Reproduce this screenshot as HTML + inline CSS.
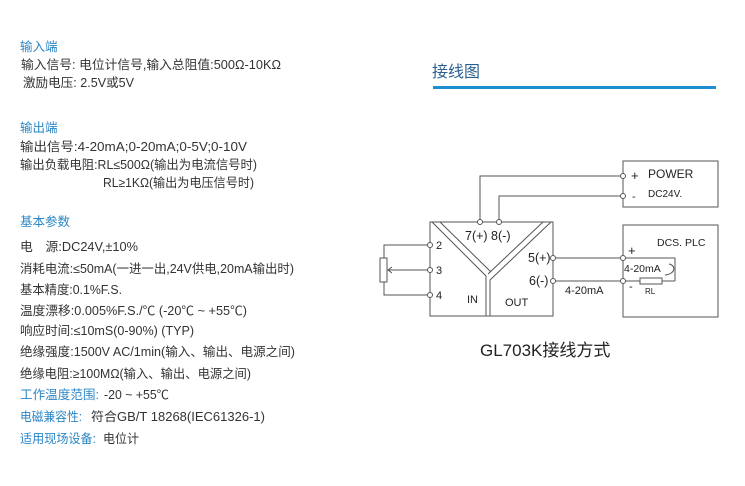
<!DOCTYPE html>
<html><head><meta charset="utf-8"><style>
body{margin:0;background:#fff}
svg{display:block}
text{font-family:"Liberation Sans","Noto Sans CJK SC",sans-serif;font-size:12.5px;fill:#333}
.b{fill:#2a86c6}
.d text{fill:#222;font-size:11px}
</style></head><body>
<svg width="745" height="486" viewBox="0 0 745 486" xmlns="http://www.w3.org/2000/svg">
<text class="b" x="20" y="51">输入端</text>
<text x="21" y="69" textLength="260" lengthAdjust="spacingAndGlyphs">输入信号: 电位计信号,输入总阻值:500Ω-10KΩ</text>
<text x="23" y="87" textLength="111" lengthAdjust="spacingAndGlyphs">激励电压: 2.5V或5V</text>
<text class="b" x="20" y="132">输出端</text>
<text x="20" y="151" textLength="227" lengthAdjust="spacingAndGlyphs">输出信号:4-20mA;0-20mA;0-5V;0-10V</text>
<text x="20" y="169" textLength="237" lengthAdjust="spacingAndGlyphs">输出负载电阻:RL≤500Ω(输出为电流信号时)</text>
<text x="103" y="187" textLength="151" lengthAdjust="spacingAndGlyphs">RL≥1KΩ(输出为电压信号时)</text>
<text class="b" x="20" y="226">基本参数</text>
<text x="20" y="251" textLength="118" lengthAdjust="spacingAndGlyphs">电　源:DC24V,±10%</text>
<text x="20" y="273" textLength="274" lengthAdjust="spacingAndGlyphs">消耗电流:≤50mA(一进一出,24V供电,20mA输出时)</text>
<text x="20" y="294" textLength="102" lengthAdjust="spacingAndGlyphs">基本精度:0.1%F.S.</text>
<text x="20" y="315" textLength="227" lengthAdjust="spacingAndGlyphs">温度漂移:0.005%F.S./℃  (-20℃ ~ +55℃)</text>
<text x="20" y="335" textLength="174" lengthAdjust="spacingAndGlyphs">响应时间:≤10mS(0-90%) (TYP)</text>
<text x="20" y="356" textLength="275" lengthAdjust="spacingAndGlyphs">绝缘强度:1500V AC/1min(输入、输出、电源之间)</text>
<text x="20" y="378" textLength="231" lengthAdjust="spacingAndGlyphs">绝缘电阻:≥100MΩ(输入、输出、电源之间)</text>
<text class="b" x="20" y="399" textLength="79" lengthAdjust="spacingAndGlyphs">工作温度范围:</text>
<text x="104" y="399" textLength="65" lengthAdjust="spacingAndGlyphs">-20 ~ +55℃</text>
<text class="b" x="20" y="421" textLength="62" lengthAdjust="spacingAndGlyphs">电磁兼容性:</text>
<text x="91" y="421" textLength="174" lengthAdjust="spacingAndGlyphs">符合GB/T 18268(IEC61326-1)</text>
<text class="b" x="20" y="443" textLength="76" lengthAdjust="spacingAndGlyphs">适用现场设备:</text>
<text x="103" y="443" textLength="36" lengthAdjust="spacingAndGlyphs">电位计</text>

<text x="432" y="77" style="font-size:16px;fill:#2a5f8f">接线图</text>
<rect x="433" y="86" width="283" height="3" fill="#1e8fd0"/>

<g fill="none" stroke="#555" stroke-width="1">
<rect x="430" y="222" width="123" height="94"/>
<polyline points="432,222 486,276 486,316"/>
<polyline points="440,222 491,272"/>
<polyline points="551,222 490,280 490,316"/>
<polyline points="543,222 488,274"/>
<rect x="623" y="161" width="95" height="46"/>
<rect x="623" y="225" width="95" height="92"/>
<polyline points="480,222 480,176 623,176"/>
<polyline points="499,222 499,196 623,196"/>
<line x1="553" y1="258" x2="623" y2="258"/>
<line x1="553" y1="281" x2="640" y2="281"/>
<line x1="662" y1="281" x2="675" y2="281"/>
<polyline points="623,258 675,258 675,281"/>
<rect x="640" y="278" width="22" height="6"/>
<polyline points="430,245 384,245 384,258"/>
<polyline points="384,282 384,295 430,295"/>
<rect x="380" y="258" width="7" height="24"/>
<line x1="388" y1="270" x2="430" y2="270"/>
<polyline points="392,267 388,270 392,273"/>
<path d="M669,264 C676,265 676,274 665,275"/>
</g>
<g fill="#fff" stroke="#555" stroke-width="1">
<circle cx="480" cy="222" r="2.5"/><circle cx="499" cy="222" r="2.5"/>
<circle cx="553" cy="258" r="2.5"/><circle cx="553" cy="281" r="2.5"/>
<circle cx="623" cy="176" r="2.5"/><circle cx="623" cy="196" r="2.5"/>
<circle cx="623" cy="258" r="2.5"/><circle cx="623" cy="281" r="2.5"/>
<circle cx="430" cy="245" r="2.5"/><circle cx="430" cy="270" r="2.5"/><circle cx="430" cy="295" r="2.5"/>
</g>
<g class="d">
<text x="465" y="240" style="font-size:12.5px">7(+) 8(-)</text>
<text x="528" y="262" style="font-size:12.5px">5(+)</text>
<text x="529" y="285" style="font-size:12.5px">6(-)</text>
<text x="436" y="249">2</text><text x="436" y="274">3</text><text x="436" y="299">4</text>
<text x="467" y="303">IN</text><text x="505" y="306">OUT</text>
<text x="565" y="294">4-20mA</text>
<text x="631" y="180" style="font-size:13px">+</text>
<text x="632" y="200">-</text>
<text x="648" y="178" style="font-size:12px">POWER</text>
<text x="648" y="197" style="font-size:10px">DC24V.</text>
<text x="657" y="246" style="font-size:10.5px">DCS. PLC</text>
<text x="628" y="255" style="font-size:13px">+</text>
<text x="629" y="290">-</text>
<text x="624" y="272" style="font-size:10.5px">4-20mA</text>
<text x="645" y="294" style="font-size:8px">RL</text>
</g>
<text x="480" y="356" style="font-size:17px;fill:#222">GL703K接线方式</text>
</svg>
</body></html>
